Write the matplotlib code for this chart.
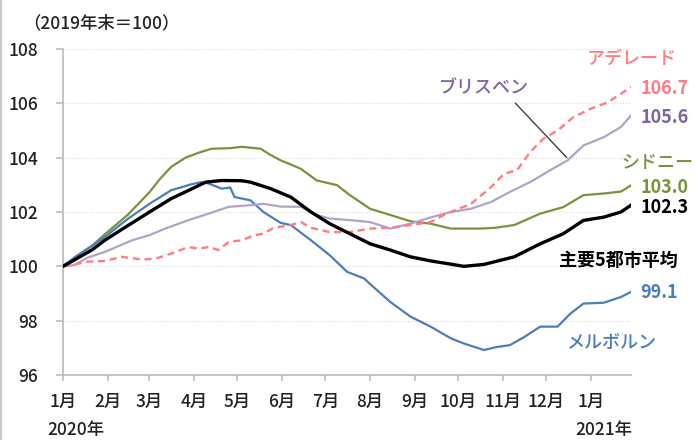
import matplotlib
matplotlib.use("Agg")
import matplotlib.pyplot as plt
from matplotlib.lines import Line2D

plt.rcParams['font.family'] = ['Noto Sans CJK JP', 'DejaVu Sans']
plt.rcParams['font.weight'] = 'medium'

# x = days since 2020-01-01, y = index (end of 2019 = 100)
sydney_days = [0, 10, 20, 29, 45, 60, 67, 75, 85, 94, 103, 116, 124, 137, 144, 151, 158, 165,
               176, 190, 199, 213, 227, 241, 255, 269, 290, 300, 313, 331, 347, 361, 375, 387, 394]
sydney_vals = [100.0, 100.4, 100.75, 101.18, 101.9, 102.73, 103.2, 103.66, 104.0, 104.18, 104.33,
               104.35, 104.4, 104.33, 104.1, 103.9, 103.75, 103.59, 103.16, 102.99, 102.62, 102.12,
               101.89, 101.66, 101.57, 101.39, 101.39, 101.42, 101.52, 101.94, 102.18, 102.62,
               102.68, 102.75, 102.98]

melb_days = [0, 10, 20, 29, 45, 60, 75, 89, 96, 101, 110, 116, 119, 130, 139, 151, 158, 172, 185,
             197, 209, 213, 227, 241, 255, 269, 278, 292, 301, 310, 320, 331, 343, 352, 361, 375,
             387, 394]
melb_vals = [100.0, 100.4, 100.75, 101.08, 101.75, 102.3, 102.8, 103.02, 103.1, 103.05, 102.86,
             102.9, 102.55, 102.43, 102.0, 101.6, 101.52, 100.96, 100.41, 99.8, 99.55, 99.35,
             98.69, 98.15, 97.78, 97.35, 97.16, 96.92, 97.03, 97.1, 97.4, 97.78, 97.78, 98.26,
             98.63, 98.66, 98.87, 99.06]

bris_days = [0, 8, 17, 29, 48, 60, 71, 87, 101, 115, 130, 139, 151, 165, 176, 185, 199, 213, 227,
             241, 255, 269, 283, 297, 310, 324, 338, 350, 361, 375, 387, 394]
bris_vals = [100.0, 100.05, 100.32, 100.53, 100.96, 101.15, 101.39, 101.7, 101.94, 102.19, 102.25,
             102.3, 102.2, 102.19, 101.89, 101.76, 101.7, 101.63, 101.39, 101.57, 101.8, 102.0,
             102.12, 102.37, 102.74, 103.1, 103.54, 103.9, 104.45, 104.75, 105.13, 105.55]

adel_days = [0, 6, 17, 29, 41, 55, 64, 75, 87, 94, 101, 108, 115, 124, 133, 139, 146, 158, 165,
             172, 185, 199, 213, 227, 241, 255, 266, 283, 297, 306, 315, 324, 333, 343, 354, 366,
             378, 389, 394]
adel_vals = [100.0, 100.05, 100.17, 100.2, 100.35, 100.25, 100.28, 100.47, 100.71, 100.65, 100.71,
             100.6, 100.9, 100.96, 101.15, 101.2, 101.42, 101.52, 101.63, 101.42, 101.26, 101.26,
             101.39, 101.42, 101.52, 101.63, 101.94, 102.3, 102.92, 103.41, 103.54, 104.2, 104.69,
             105.0, 105.49, 105.8, 106.04, 106.42, 106.6]

avg_days = [0, 10, 20, 29, 45, 60, 75, 92, 99, 110, 124, 130, 144, 158, 172, 185, 199, 213, 227,
            241, 255, 269, 278, 292, 313, 331, 347, 361, 375, 387, 394]
avg_vals = [100.0, 100.3, 100.6, 100.96, 101.5, 102.0, 102.49, 102.92, 103.1, 103.16, 103.15,
            103.1, 102.86, 102.55, 102.0, 101.57, 101.2, 100.83, 100.6, 100.35, 100.2, 100.08,
            100.0, 100.07, 100.35, 100.83, 101.2, 101.69, 101.81, 102.0, 102.25]

month_days = [0, 31, 60, 91, 121, 152, 182, 213, 244, 274, 305, 335, 366]
month_labels = ['1月', '2月', '3月', '4月', '5月', '6月', '7月', '8月', '9月', '10月', '11月', '12月', '1月']
y_ticks = [96, 98, 100, 102, 104, 106, 108]

c_syd = '#77933C'
c_mel = '#4A7EBB'
c_bri = '#B3A2C7'
c_bri_txt = '#8064A2'
c_ade = '#FF7C80'

fig = plt.figure(figsize=(6.95, 4.4), dpi=100)
ax = fig.add_axes([63 / 695, 1 - 375 / 440, (631 - 63) / 695, (375 - 49) / 440])

ax.plot(sydney_days, sydney_vals, color=c_syd, lw=1.6, zorder=3)
ax.plot(melb_days, melb_vals, color=c_mel, lw=1.6, zorder=3)
ax.plot(bris_days, bris_vals, color=c_bri, lw=1.6, zorder=3)
ax.plot(adel_days, adel_vals, color=c_ade, lw=1.7, dashes=(3, 2), zorder=3)
ax.plot(avg_days, avg_vals, color='black', lw=2.4, zorder=4)

ax.set_xlim(0, 394)
ax.set_ylim(96, 108)
ax.set_yticks(y_ticks)
ax.set_yticklabels([str(v) for v in y_ticks], fontsize=12.5, color='#222222')
ax.set_xticks(month_days)
ax.set_xticklabels(month_labels, fontsize=12.5, color='#222222')

for s in ['top', 'right']:
    ax.spines[s].set_visible(False)
for s in ['left', 'bottom']:
    ax.spines[s].set_color('#BFBFBF')
    ax.spines[s].set_linewidth(1.3)
ax.tick_params(axis='y', length=5, width=1.2, color='#BFBFBF', pad=13)
ax.tick_params(axis='x', length=4, width=1.2, color='#BFBFBF', pad=9)

for v in y_ticks[1:]:
    ax.axhline(v, color='#D9D9D9', lw=0.8, ls=':', zorder=1)

# labels
lab = dict(fontsize=13, clip_on=False)
ax.text(394.4, 107.65, 'アデレード', color=c_ade, ha='center', va='center', **lab)
ax.text(400.5, 106.55, '106.7', color=c_ade, ha='left', va='center', fontweight='bold', **lab)
ax.text(291.7, 106.55, 'ブリスベン', color=c_bri_txt, ha='center', va='center', **lab)
ax.plot([313.9, 349.3], [106.0, 104.01], color='#404040', lw=1.0, zorder=5)
ax.text(400.5, 105.49, '105.6', color=c_bri_txt, ha='left', va='center', fontweight='bold', **lab)
ax.text(412.5, 103.8, 'シドニー', color=c_syd, ha='center', va='center', **lab)
ax.text(400.5, 102.92, '103.0', color=c_syd, ha='left', va='center', fontweight='bold', **lab)
ax.text(400.5, 102.18, '102.3', color='black', ha='left', va='center', fontweight='bold', **lab)
ax.text(385.4, 100.23, '主要5都市平均', color='black', ha='center', va='center', fontweight='bold', **lab)
ax.text(400.5, 99.02, '99.1', color=c_mel, ha='left', va='center', fontweight='bold', **lab)
ax.text(380, 97.18, 'メルボルン', color=c_mel, ha='center', va='center', **lab)

fig.text(23 / 695, 1 - 23 / 440, '（2019年末＝100）', fontsize=12.5, ha='left', va='center', color='#222222')
fig.text(47 / 695, 1 - 430 / 440, '2020年', fontsize=12.5, ha='left', va='center', color='#222222')
fig.text(632 / 695, 1 - 430 / 440, '2021年', fontsize=12.5, ha='right', va='center', color='#222222')

fig.add_artist(Line2D([0.002, 0.002], [0, 1], color='#BFBFBF', lw=1.2))

fig.savefig('out.png', dpi=100)
